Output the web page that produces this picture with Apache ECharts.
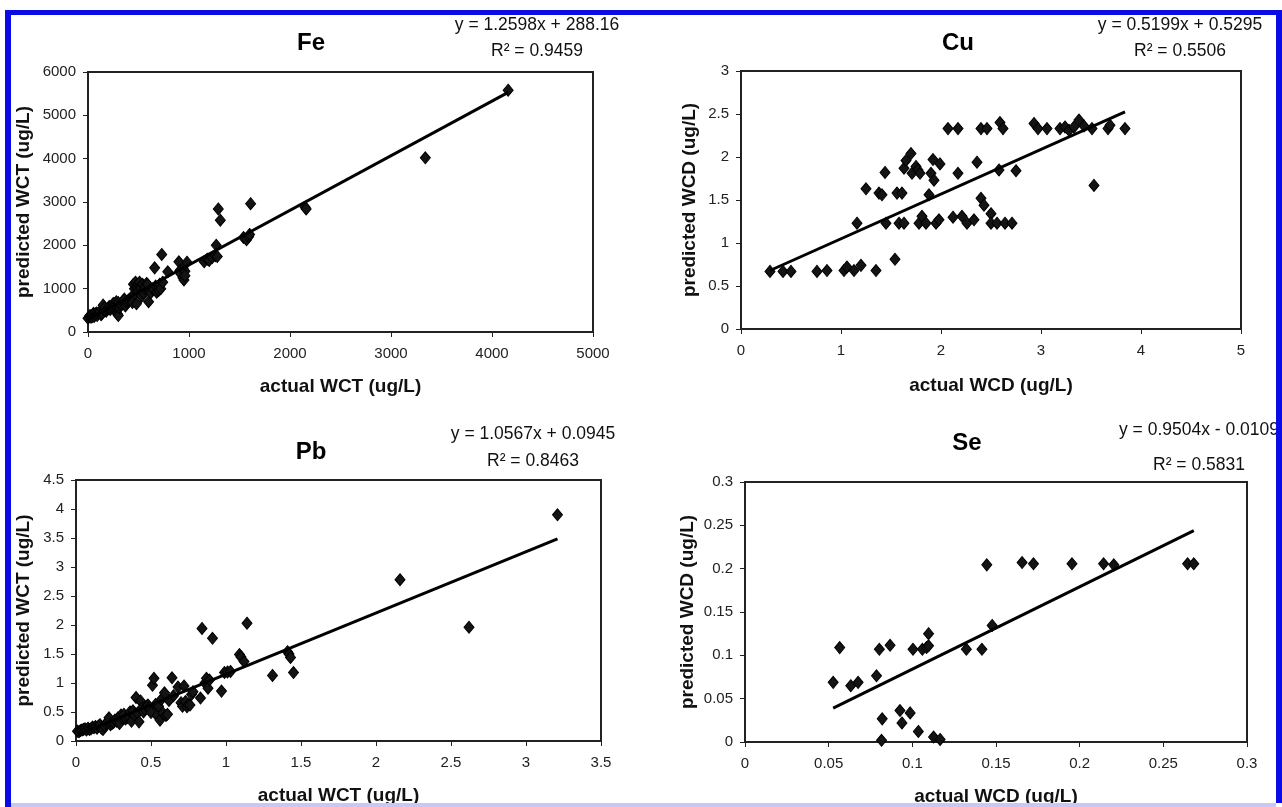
<!DOCTYPE html>
<html><head><meta charset="utf-8">
<script src="https://cdn.jsdelivr.net/npm/echarts@6/dist/echarts.min.js"></script>
<style>html,body{margin:0;padding:0;background:#fff;}#c{width:1282px;height:807px;}</style>
</head><body><div id="c"></div>
<script>
// ---------- Data ----------
const feActual = [0,15,20,30,40,45,55,60,70,75,85,90,100,110,120,130,140,150,160,165,180,190,200,210,220,230,240,250,260,270,280,290,300,300,310,320,330,340,350,360,370,380,390,400,420,430,440,450,460,460,470,475,480,490,495,500,505,510,520,525,530,540,545,550,560,565,580,590,600,610,620,640,650,660,670,680,700,700,710,720,730,740,790,900,910,920,940,945,950,960,960,980,1150,1180,1200,1230,1260,1270,1280,1290,1310,1540,1570,1590,1600,1610,2150,2160,3340,4160];
const fePred   = [320,360,380,340,350,400,430,360,390,420,440,380,420,450,470,400,430,620,500,560,480,520,550,590,520,560,600,660,640,620,700,420,380,680,560,620,650,700,720,760,600,680,700,740,760,800,680,1100,880,1000,1150,1050,650,1000,1100,940,1060,1150,1050,1000,820,1100,960,900,1000,1060,1120,1100,700,950,900,1000,980,1480,1060,920,1050,960,1100,1000,1790,1150,1390,1620,1420,1340,1250,1450,1200,1400,1300,1610,1620,1680,1650,1720,1760,2000,1740,2840,2580,2180,2130,2200,2250,2960,2880,2840,4020,5580];

const cuActual = [0.29,0.42,0.50,0.76,0.86,1.03,1.06,1.13,1.20,1.35,1.54,1.16,1.25,1.38,1.41,1.44,1.45,1.56,1.61,1.58,1.63,1.63,1.65,1.70,1.71,1.75,1.77,1.79,1.78,1.81,1.85,1.88,1.90,1.92,1.93,1.95,1.98,1.99,2.07,2.17,2.12,2.17,2.21,2.26,2.33,2.36,2.40,2.43,2.40,2.46,2.50,2.50,2.56,2.58,2.59,2.62,2.64,2.71,2.75,2.93,2.97,3.06,3.19,3.24,3.28,3.33,3.38,3.43,3.51,3.53,3.67,3.69,3.84];
const cuPred   = [0.67,0.67,0.67,0.67,0.68,0.68,0.72,0.68,0.74,0.68,0.81,1.23,1.63,1.58,1.56,1.82,1.23,1.58,1.58,1.23,1.23,1.87,1.96,2.04,1.81,1.89,1.85,1.81,1.23,1.31,1.23,1.56,1.81,1.97,1.73,1.23,1.27,1.92,2.33,2.33,1.30,1.81,1.31,1.23,1.27,1.94,1.52,1.44,2.33,2.33,1.34,1.23,1.23,1.85,2.40,2.33,1.23,1.23,1.84,2.39,2.33,2.33,2.33,2.35,2.31,2.35,2.43,2.36,2.33,1.67,2.33,2.37,2.33];

const pbActual = [0.01,0.02,0.03,0.04,0.05,0.06,0.07,0.08,0.09,0.10,0.11,0.12,0.13,0.14,0.15,0.16,0.17,0.18,0.19,0.20,0.21,0.22,0.23,0.24,0.25,0.26,0.27,0.28,0.29,0.30,0.31,0.32,0.33,0.34,0.35,0.36,0.37,0.38,0.39,0.40,0.41,0.42,0.43,0.44,0.45,0.46,0.47,0.48,0.49,0.50,0.51,0.52,0.53,0.54,0.55,0.56,0.57,0.58,0.59,0.60,0.61,0.62,0.64,0.65,0.68,0.70,0.71,0.72,0.73,0.74,0.75,0.76,0.77,0.78,0.83,0.84,0.86,0.87,0.88,0.89,0.91,0.97,0.99,1.01,1.03,1.09,1.10,1.12,1.14,1.31,1.41,1.42,1.43,1.45,2.16,2.62,3.21];
const pbPred   = [0.17,0.16,0.18,0.19,0.20,0.21,0.19,0.22,0.20,0.21,0.24,0.23,0.25,0.22,0.26,0.28,0.22,0.20,0.26,0.30,0.33,0.40,0.28,0.30,0.32,0.36,0.34,0.40,0.30,0.45,0.39,0.46,0.38,0.40,0.43,0.50,0.34,0.52,0.45,0.75,0.48,0.33,0.69,0.57,0.50,0.55,0.60,0.62,0.58,0.49,0.96,1.08,0.63,0.44,0.60,0.36,0.72,0.48,0.83,0.44,0.46,0.70,1.09,0.78,0.93,0.66,0.60,0.95,0.68,0.59,0.63,0.62,0.80,0.85,0.74,1.94,1.00,1.08,0.91,1.05,1.77,0.86,1.18,1.19,1.20,1.49,1.45,1.37,2.03,1.13,1.54,1.50,1.44,1.18,2.78,1.96,3.90];

const seActual = [0.0527,0.0566,0.0632,0.0676,0.0786,0.0803,0.0867,0.0820,0.0816,0.0926,0.0938,0.0987,0.1004,0.1036,0.1060,0.1085,0.1097,0.1097,0.1127,0.1166,0.1323,0.1416,0.1445,0.1477,0.1656,0.1724,0.1954,0.2143,0.2204,0.2645,0.2682];
const sePred   = [0.0688,0.1089,0.0650,0.0688,0.0764,0.1070,0.1116,0.0267,0.0020,0.0363,0.0220,0.0336,0.1070,0.0122,0.1070,0.1090,0.1110,0.1250,0.0057,0.0030,0.1070,0.1070,0.2044,0.1345,0.2070,0.2056,0.2056,0.2056,0.2044,0.2056,0.2056];

// regression coefficients as printed on the chart
const feFit = [1.2598, 288.16], cuFit = [0.5199, 0.5295], pbFit = [1.0567, 0.0945], seFit = [0.9504, -0.0109];
const titles = ['Fe', 'Cu', 'Pb', 'Se'];
const equations = ['y = 1.2598x + 288.16', 'y = 0.5199x + 0.5295', 'y = 1.0567x + 0.0945', 'y = 0.9504x - 0.0109'];
const rSquared = ['R² = 0.9459', 'R² = 0.5506', 'R² = 0.8463', 'R² = 0.5831'];
const xNames = ['actual WCT (ug/L)', 'actual WCD (ug/L)', 'actual WCT (ug/L)', 'actual WCD (ug/L)'];
const yNames = ['predicted WCT (ug/L)', 'predicted WCD (ug/L)', 'predicted WCT (ug/L)', 'predicted WCD (ug/L)'];
const xScales = [[0, 5000, 1000], [0, 5, 1], [0, 3.5, 0.5], [0, 0.3, 0.05]];
const yScales = [[0, 6000, 1000], [0, 3, 0.5], [0, 4.5, 0.5], [0, 0.3, 0.05]];

// ---------- Layout ----------
const grids = [
  {left: 88, top: 72, width: 505, height: 260},
  {left: 741, top: 71, width: 500, height: 258},
  {left: 76, top: 480, width: 525, height: 261},
  {left: 745, top: 482, width: 502, height: 261}
];
const yNameGap = [55, 42, 43, 48];
const xNameGap = [45, 47, 45, 45];
const titlePos = [[311, 43], [958, 43], [311, 452], [967, 443]];
const eqPos = [[537, 25, 51], [1180, 25, 51], [533, 434, 461], [1199, 430, 465]];

const panels = [
  {x: feActual, y: fePred, fit: feFit},
  {x: cuActual, y: cuPred, fit: cuFit},
  {x: pbActual, y: pbPred, fit: pbFit},
  {x: seActual, y: sePred, fit: seFit}
];

const FONT = '"Liberation Sans", Arial, sans-serif';
const AX = '#222';
const fmt = v => String(+v.toFixed(4));

const option = {
  animation: false,
  backgroundColor: '#fff',
  textStyle: {fontFamily: FONT},
  grid: grids.map(g => Object.assign({show: true, borderColor: AX, borderWidth: 2, backgroundColor: '#fff', containLabel: false}, g)),
  xAxis: grids.map((g, i) => ({
    type: 'value', gridIndex: i,
    min: xScales[i][0], max: xScales[i][1], interval: xScales[i][2],
    name: xNames[i], nameLocation: 'middle', nameGap: xNameGap[i],
    nameTextStyle: {fontFamily: FONT, fontWeight: 'bold', fontSize: 19, color: '#111'},
    axisLine: {show: true, onZero: false, lineStyle: {color: AX, width: 2}},
    axisTick: {show: true, inside: false, length: 5, lineStyle: {color: AX, width: 1}},
    axisLabel: {fontFamily: FONT, fontSize: 15, color: '#222', margin: 14, formatter: fmt},
    splitLine: {show: false}
  })),
  yAxis: grids.map((g, i) => ({
    type: 'value', gridIndex: i,
    min: yScales[i][0], max: yScales[i][1], interval: yScales[i][2],
    name: yNames[i], nameLocation: 'middle', nameGap: yNameGap[i], nameRotate: 90,
    nameTextStyle: {fontFamily: FONT, fontWeight: 'bold', fontSize: 19, color: '#111'},
    axisLine: {show: true, onZero: false, lineStyle: {color: AX, width: 2}},
    axisTick: {show: true, inside: false, length: 5, lineStyle: {color: AX, width: 1}},
    axisLabel: {fontFamily: FONT, fontSize: 15, color: '#222', margin: 12, formatter: fmt},
    splitLine: {show: false}
  })),
  series: [],
  graphic: []
};

panels.forEach((p, i) => {
  option.series.push({
    type: 'scatter', xAxisIndex: i, yAxisIndex: i,
    data: p.x.map((v, k) => [v, p.y[k]]),
    symbol: 'diamond', symbolSize: [10, 12],
    itemStyle: {color: '#141414', borderColor: '#000', borderWidth: 1, opacity: 1},
    z: 2
  });
  const x0 = Math.min(...p.x), x1 = Math.max(...p.x);
  option.series.push({
    type: 'line', xAxisIndex: i, yAxisIndex: i,
    data: [[x0, p.fit[0] * x0 + p.fit[1]], [x1, p.fit[0] * x1 + p.fit[1]]],
    symbol: 'none', lineStyle: {color: '#000', width: 3}, z: 3, silent: true
  });
  option.graphic.push({type: 'text', z: 10, style: {text: titles[i], x: titlePos[i][0], y: titlePos[i][1], textAlign: 'center', textVerticalAlign: 'middle', font: 'bold 24px ' + FONT, fill: '#000'}});
  option.graphic.push({type: 'text', z: 10, style: {text: equations[i], x: eqPos[i][0], y: eqPos[i][1], textAlign: 'center', textVerticalAlign: 'middle', font: '17.5px ' + FONT, fill: '#111'}});
  option.graphic.push({type: 'text', z: 10, style: {text: rSquared[i], x: eqPos[i][0], y: eqPos[i][2], textAlign: 'center', textVerticalAlign: 'middle', font: '17.5px ' + FONT, fill: '#111'}});
});

// blue frame
const BLUE = '#0b0be8';
option.graphic.push(
  {type: 'rect', z: 100, shape: {x: 5, y: 10, width: 1277, height: 5}, style: {fill: BLUE}},
  {type: 'rect', z: 100, shape: {x: 5, y: 10, width: 6, height: 797}, style: {fill: BLUE}},
  {type: 'rect', z: 100, shape: {x: 1276, y: 10, width: 6, height: 793}, style: {fill: BLUE}},
  {type: 'rect', z: 100, shape: {x: 11, y: 803, width: 1265, height: 4}, style: {fill: '#c8c8f4'}}
);

const chart = echarts.init(document.getElementById('c'), null, {renderer: 'canvas'});
chart.setOption(option);
</script></body></html>
